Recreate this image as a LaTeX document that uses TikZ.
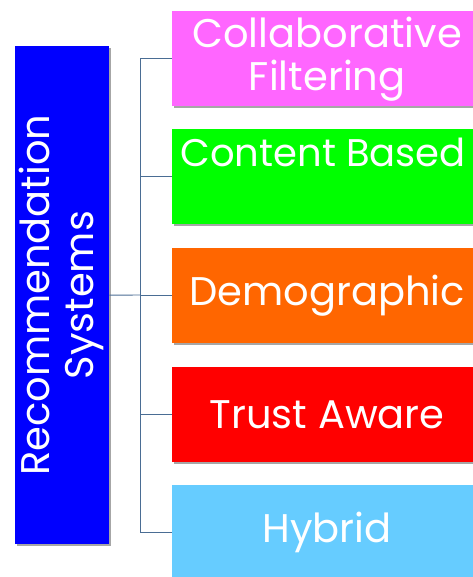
\documentclass[tikz,border=0pt]{standalone}
\usepackage{fontspec}
\setmainfont{Poppins}
\usetikzlibrary{shadows}
\definecolor{rsblue}{HTML}{0000FF}
\definecolor{cfpink}{HTML}{FF66FF}
\definecolor{cbgreen}{HTML}{00FF00}
\definecolor{demorange}{HTML}{FF6600}
\definecolor{tared}{HTML}{FF0000}
\definecolor{hyblue}{HTML}{66CCFF}
\definecolor{linkc}{HTML}{4A6D94}
\begin{document}
\begin{tikzpicture}[x=1pt,y=-1pt,
  catbox/.style={rectangle, anchor=north west, minimum width=310pt, minimum height=95pt,
    inner sep=0pt, text=white, align=center,
    font=\fontsize{40}{43}\selectfont,
    drop shadow={shadow xshift=1.5pt, shadow yshift=-1.5pt, opacity=0.35, fill=black}},
  link/.style={draw=linkc, line width=0.9pt}
]
\useasboundingbox (0,0) rectangle (472,577);
\fill[white] (0,0) rectangle (472,577);
\node[rectangle, anchor=north west, minimum width=94pt, minimum height=498pt, fill=rsblue,
  inner sep=0pt,
  drop shadow={shadow xshift=1.5pt, shadow yshift=-1.5pt, opacity=0.35, fill=black}]
  (rs) at (15,46) {};
\node[text=white, rotate=90, align=center, font=\fontsize{40}{44}\selectfont]
  (rstext) at ([xshift=-1pt]rs.center) {Recommendation\\Systems};
\node[catbox, fill=cfpink] (cf) at (172,11) {Collaborative\\Filtering};
\node[catbox, fill=cbgreen, font=\fontsize{38.5}{43}\selectfont] (cb) at (172,129)
  {\hspace*{-8pt}Content Based\\[-8pt]\strut};
\node[catbox, fill=demorange] (dm) at (172,248) {Demographic};
\node[catbox, fill=tared] (ta) at (172,367) {Trust Aware};
\node[catbox, fill=hyblue] (hy) at (172,485) {Hybrid};
\coordinate (bus) at (140,295);
\draw[link] (rs.east) -- (bus);
\foreach \n in {cf,cb,dm,ta,hy} { \draw[link] (bus) |- (\n.west); }
\end{tikzpicture}
\end{document}
